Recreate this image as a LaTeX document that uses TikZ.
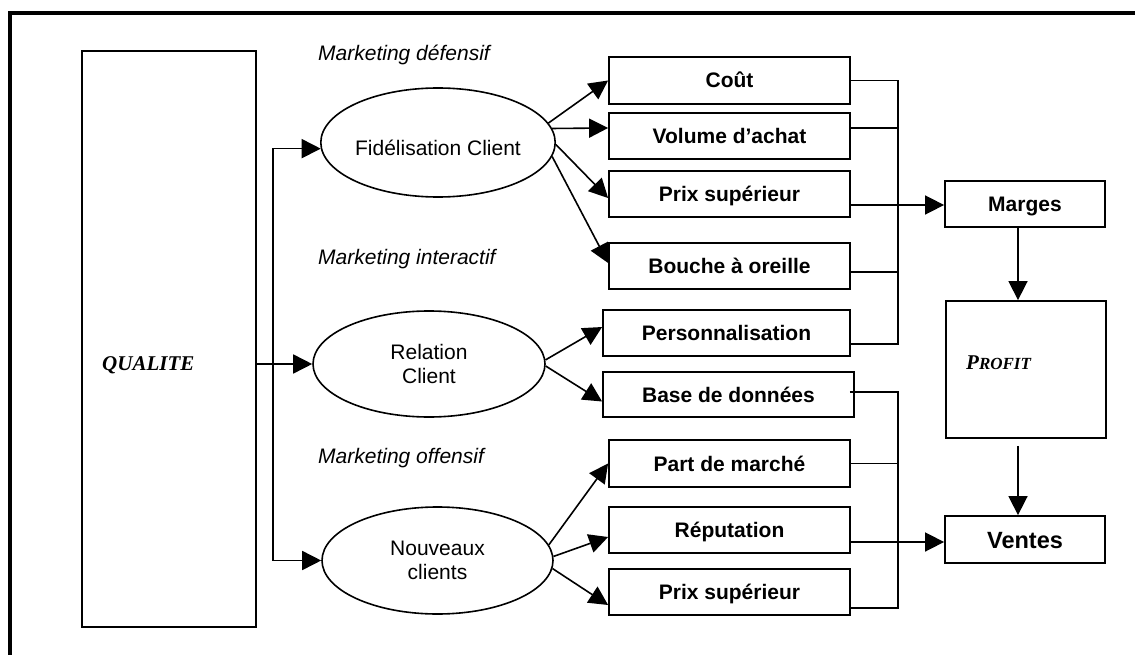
\documentclass[tikz,border=0pt]{standalone}
\usepackage{fontspec}
\setmainfont{Liberation Sans}
\newfontfamily\tnr{Liberation Serif}
\usetikzlibrary{arrows.meta,shapes.geometric,calc}
\begin{document}
\begin{tikzpicture}[x=1pt,y=-1pt,
  ln/.style={line width=1.6pt},
  arr/.style={line width=1.6pt,-{Triangle[length=19pt,width=19pt]}},
  bx/.style={draw,line width=1.8pt,inner sep=0pt,minimum width=241pt,minimum height=46pt,
    font=\fontsize{21}{24}\selectfont\bfseries,text height=15pt,text depth=0pt},
  ell/.style={draw,ellipse,line width=1.6pt,inner sep=0pt,align=center,
    font=\fontsize{21}{24}\selectfont},
  mk/.style={anchor=base west,inner sep=0pt,font=\fontsize{21}{24}\selectfont\itshape}
]
\useasboundingbox (0,0) rectangle (1135,655);
\fill[white] (0,0) rectangle (1135,655);
% frame
\draw[line width=4pt] (10,660) -- (10,13) -- (1140,13);

% QUALITE
\node[draw,line width=1.8pt,minimum width=174pt,minimum height=576pt,inner sep=0pt] (qual) at (169,339) {};
\node[anchor=base west,inner sep=0pt,font=\tnr\fontsize{21}{24}\selectfont\bfseries\itshape] (qualt) at (102,370) {QUALITE};

% ellipses
\node[ell,minimum width=233pt,minimum height=109pt,text height=26pt,text depth=0pt] (fid) at (438,142.5) {Fidélisation Client};
\node[ell,minimum width=232pt,minimum height=106pt] (rel) at (429,364) {Relation\\Client};
\node[ell,minimum width=231pt,minimum height=107pt] (nou) at (437.5,560.5) {Nouveaux\\clients};

% labels
\node[mk] (m1) at (318,61) {Marketing défensif};
\node[mk] (m2) at (318,265) {Marketing interactif};
\node[mk] (m3) at (318,463) {Marketing offensif};

% boxes
\node[bx,minimum height=47pt] (cout) at (729.5,80.5) {Coût};
\node[bx] (vol) at (729.5,136) {Volume d’achat};
\node[bx] (prixa) at (729.5,194) {Prix supérieur};
\node[bx] (bouche) at (729.5,266) {Bouche à oreille};
\node[bx,minimum width=247pt] (pers) at (726.5,333) {Personnalisation};
\node[bx,minimum width=251pt,minimum height=45pt] (base) at (728.5,394.5) {Base de données};
\node[bx,minimum height=47pt] (part) at (729.5,463.5) {Part de marché};
\node[bx] (rep) at (729.5,530) {Réputation};
\node[bx] (prixb) at (729.5,592) {Prix supérieur};

\node[bx,minimum width=160pt] (marges) at (1025,204) {Marges};
\node[draw,line width=1.8pt,minimum width=160pt,minimum height=137pt,inner sep=0pt] (profit) at (1026,369.5) {};
\node[anchor=base west,inner sep=0pt,font=\tnr\bfseries\itshape] (profitt) at (966,369) {\fontsize{21}{24}\selectfont P\fontsize{17}{20}\selectfont ROFIT};
\node[bx,minimum width=160pt,minimum height=47pt,font=\fontsize{23.5}{26}\selectfont\bfseries,text height=17pt] (ventes) at (1025,539.5) {Ventes};

% left bus
\coordinate (lb) at (273,0);
\draw[arr] (qual.east |- rel.west) -- (rel.west);
\draw[arr] (nou.west -| lb) -- (fid.183.7 -| lb) -- (fid.183.7);
\draw[arr] (fid.183.7 -| lb) -- (nou.west -| lb) -- (nou.west);

% ellipse -> boxes
\draw[arr] (fid.10.65) -- (cout.west);
\draw[arr] (fid.7.5) -- ($(vol.west)+(0,-8)$);
\draw[arr] (fid.-1.2) -- ($(prixa.west)+(0,4)$);
\draw[arr] (fid.-7.4) -- ($(bouche.west)+(0,-3)$);
\draw[arr] (rel.2) -- ($(pers.west)+(0,-6)$);
\draw[arr] (rel.-1) -- ($(base.west)+(0,7)$);
\draw[arr] (nou.8.8) -- (part.west);
\draw[arr] (nou.2.7) -- ($(rep.west)+(0,7)$);
\draw[arr] (nou.-4.7) -- ($(prixb.west)+(0,13)$);

% right buses
\coordinate (ub) at (898,0);
\coordinate (volR) at ($(vol.east)+(0,-8)$);
\coordinate (prixaR) at ($(prixa.east)+(0,11)$);
\coordinate (boucheR) at ($(bouche.east)+(0,6)$);
\coordinate (persR) at ($(pers.east)+(0,11)$);
\draw[ln] (cout.east) -| (persR -| ub) -- (persR);
\draw[ln] (volR) -- (volR -| ub);
\draw[ln] (boucheR) -- (boucheR -| ub);
\draw[arr] (prixaR) -- (prixaR -| marges.west);

\coordinate (baseR) at ($(base.east)+(-5,-2.5)$);
\coordinate (repR) at ($(rep.east)+(0,12)$);
\coordinate (prixbR) at ($(prixb.east)+(0,16)$);
\draw[ln] (baseR) -| (prixbR -| ub) -- (prixbR);
\draw[ln] (part.east) -- (part.east -| ub);
\draw[arr] (repR) -- (repR -| ventes.west);

% right column
\draw[arr] ($(marges.south)+(-7,0)$) -- ($(profit.north)+(-8,0)$);
\draw[arr] ($(profit.south)+(-8,7)$) -- ($(ventes.north)+(-7,0)$);
\end{tikzpicture}
\end{document}
